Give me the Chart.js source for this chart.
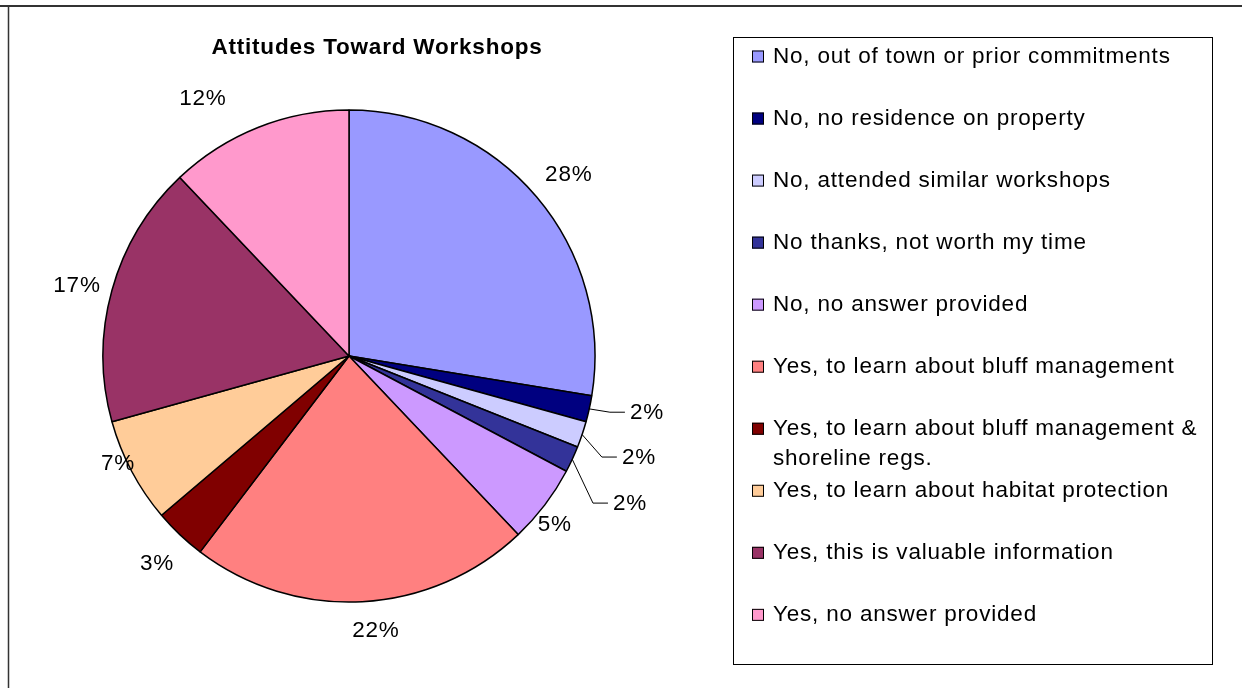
<!DOCTYPE html>
<html>
<head>
<meta charset="utf-8">
<script src="https://cdn.jsdelivr.net/npm/chart.js@4.4.1/dist/chart.umd.min.js"></script>
<style>
html,body{margin:0;padding:0;background:#fff;}
canvas{display:block;}
</style>
</head>
<body>
<canvas id="c" width="1242" height="688"></canvas>
<script>
// ---- data ----
const chartTitle = 'Attitudes Toward Workshops';
const categories = [
  'No, out of town or prior commitments',
  'No, no residence on property',
  'No, attended similar workshops',
  'No thanks, not worth my time',
  'No, no answer provided',
  'Yes, to learn about bluff management',
  'Yes, to learn about bluff management & shoreline regs.',
  'Yes, to learn about habitat protection',
  'Yes, this is valuable information',
  'Yes, no answer provided'
];
const responses = [16, 1, 1, 1, 3, 13, 2, 4, 10, 7];
const sliceColors = ['#9999FF','#000080','#CCCCFF','#333399','#CC99FF','#FF8080','#800000','#FFCC99','#993366','#FF99CC'];

// ---- label placement (angle shift in degrees, distance beyond the rim in px, leader line) ----
const labelShift = [0.7, -1.1, 1.7, 4.3, 2.0, -2.5, -0.6, 3.2, -0.9, -7.8];
const labelGap   = [39.5, 40.5, 45, 56.2, 19.8, 29.3, 36.3, 8.2, 35.1, 50.4];
const labelLeader = [false, true, true, true, false, false, false, false, false, false];

const FONT = '"Liberation Sans", Arial, sans-serif';
const SPACING = '0.8px';
const SIZE = 22.5;

const overlay = {
  id: 'overlay',
  afterDraw(chart) {
    const ctx = chart.ctx;
    ctx.save();
    // outer frame (clipped by the picture on the right and bottom)
    ctx.strokeStyle = '#333';
    ctx.lineWidth = 2;
    ctx.beginPath(); ctx.moveTo(0, 6); ctx.lineTo(1250, 6); ctx.stroke();
    ctx.lineWidth = 1.5;
    ctx.beginPath(); ctx.moveTo(8.5, 5); ctx.lineTo(8.5, 700); ctx.stroke();

    if ('letterSpacing' in ctx) ctx.letterSpacing = SPACING;

    // title
    ctx.fillStyle = '#000';
    ctx.font = 'bold ' + SIZE + 'px ' + FONT;
    ctx.textAlign = 'center';
    ctx.textBaseline = 'alphabetic';
    ctx.fillText(chartTitle, 377, 54);

    // slice labels
    const meta = chart.getDatasetMeta(0);
    const data = chart.data.datasets[0].data;
    const total = data.reduce((a, b) => a + b, 0);
    ctx.font = SIZE + 'px ' + FONT;
    ctx.textBaseline = 'middle';
    meta.data.forEach((arc, i) => {
      const mid = (arc.startAngle + arc.endAngle) / 2;
      const a = mid + labelShift[i] * Math.PI / 180;
      const r = arc.outerRadius + labelGap[i];
      const px = arc.x + r * Math.cos(a);
      const py = arc.y + r * Math.sin(a);
      const txt = Math.round(data[i] / total * 100) + '%';
      if (labelLeader[i]) {
        const sx = arc.x + arc.outerRadius * Math.cos(mid);
        const sy = arc.y + arc.outerRadius * Math.sin(mid);
        ctx.strokeStyle = '#000';
        ctx.lineWidth = 1;
        ctx.beginPath();
        ctx.moveTo(sx, sy);
        ctx.lineTo(px - 20, py);
        ctx.lineTo(px - 5, py);
        ctx.stroke();
        ctx.textAlign = 'left';
        ctx.fillText(txt, px, py + 1);
      } else {
        ctx.textAlign = 'center';
        ctx.fillText(txt, px, py + 1);
      }
    });

    // legend box
    ctx.strokeStyle = '#000';
    ctx.lineWidth = 1;
    ctx.strokeRect(733.5, 37.5, 479, 627);
    const labels = chart.data.labels;
    const colors = chart.data.datasets[0].backgroundColor;
    const step = 62.04;
    const maxW = 445;
    ctx.textAlign = 'left';
    labels.forEach((lab, i) => {
      const y = 55.5 + i * step;
      const words = lab.split(' ');
      const lines = [];
      let cur = '';
      words.forEach(w => {
        const test = cur ? cur + ' ' + w : w;
        if (ctx.measureText(test).width > maxW && cur) { lines.push(cur); cur = w; }
        else cur = test;
      });
      lines.push(cur);
      ctx.fillStyle = colors[i];
      ctx.fillRect(752, y - 5, 12, 12);
      ctx.strokeStyle = '#000';
      ctx.lineWidth = 1;
      ctx.strokeRect(752.5, y - 4.5, 11, 11);
      ctx.fillStyle = '#000';
      lines.forEach((ln, k) => ctx.fillText(ln, 773, y + 1 + k * 30));
    });
    ctx.restore();
  }
};

new Chart(document.getElementById('c'), {
  type: 'pie',
  data: {
    labels: categories,
    datasets: [{
      data: responses,
      backgroundColor: sliceColors,
      borderColor: '#000',
      borderWidth: 1.5
    }]
  },
  options: {
    responsive: false,
    animation: false,
    events: [],
    radius: 246,
    layout: { padding: { left: 103, top: 110, right: 647, bottom: 86 } },
    plugins: {
      legend: { display: false },
      tooltip: { enabled: false },
      title: { display: false }
    }
  },
  plugins: [overlay]
});
</script>
</body>
</html>
